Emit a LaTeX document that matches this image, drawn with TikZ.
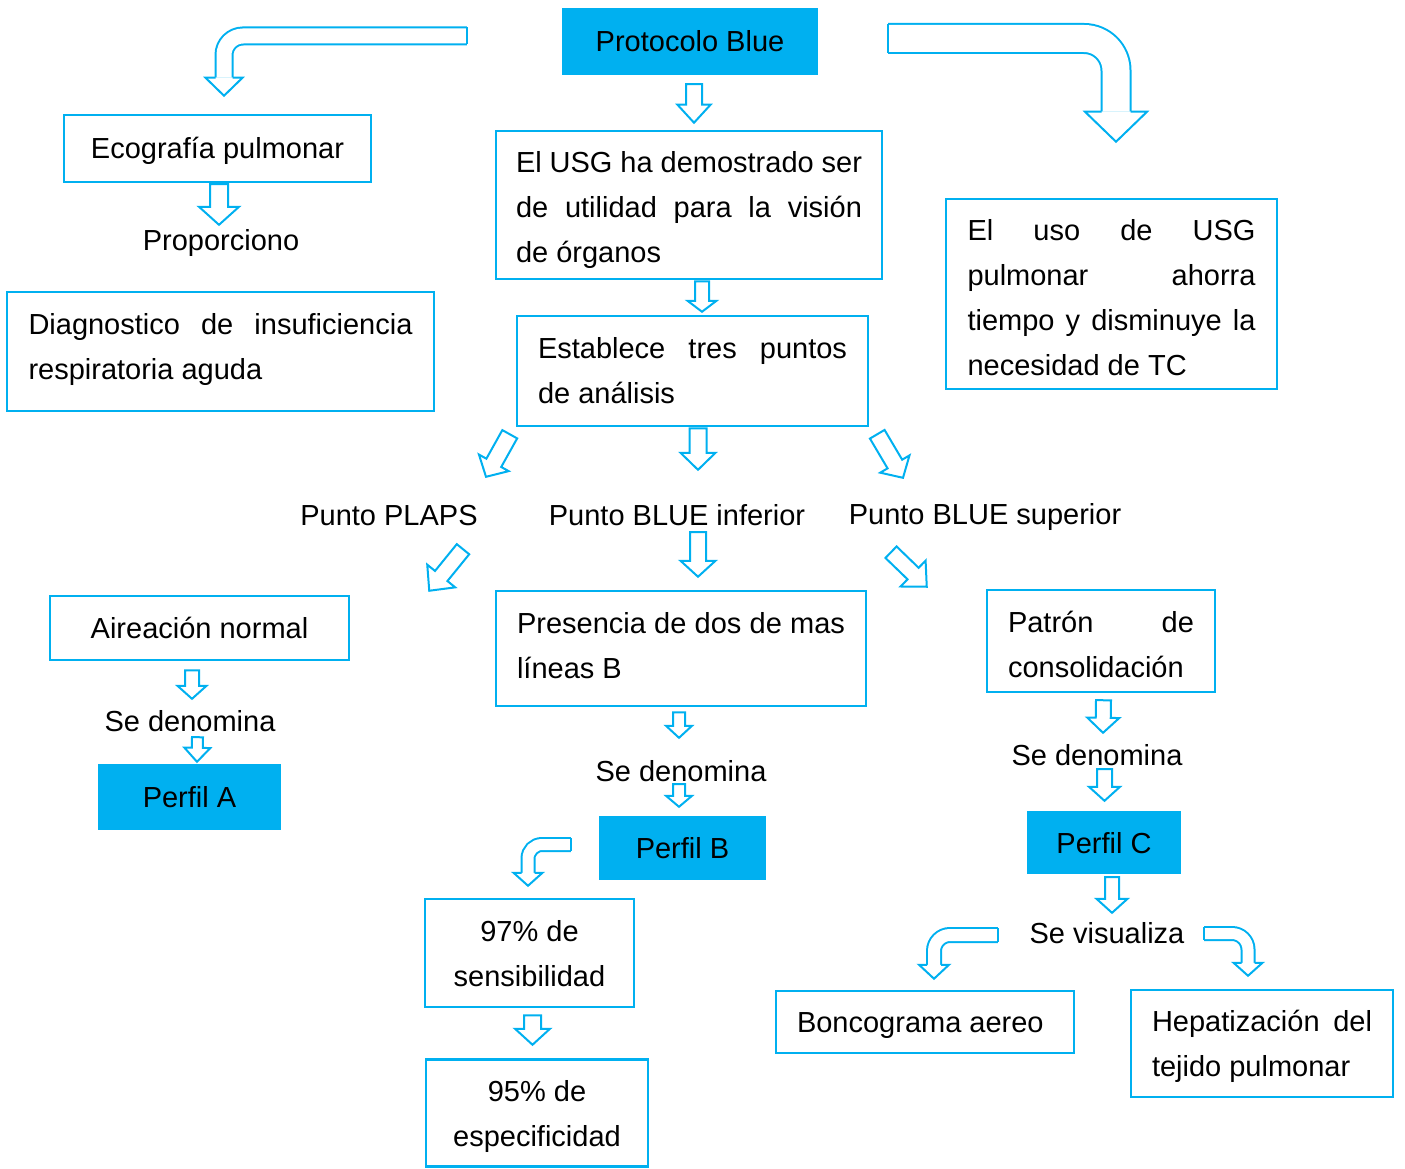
\documentclass[tikz,border=0pt]{standalone}
\usepackage{fontspec}
\setmainfont{Liberation Sans}
\usetikzlibrary{calc}
\definecolor{celeste}{HTML}{00B0F0}

\begin{document}
\begin{tikzpicture}[x=1pt,y=-1pt]
\tikzstyle{caja}=[draw=celeste,line width=2.5pt,inner sep=0pt,font=\fontsize{29}{45}\selectfont]
\tikzstyle{llena}=[fill=celeste,inner sep=0pt,font=\fontsize{29}{45}\selectfont]
\tikzstyle{texto}=[inner sep=0pt,font=\fontsize{29}{45}\selectfont]
\tikzstyle{linea}=[text height=28pt,text depth=7pt]
\tikzstyle{bloque}=[draw=celeste,line width=2pt,fill=white]
\def\arriba#1{\rule{0pt}{#1pt}}
\def\abajo#1{\rule[-#1pt]{0pt}{#1pt}}
\def\flecha#1#2#3#4#5{%
  \coordinate (fa) at (#1);
  \coordinate (fb) at (#2);
  \coordinate (fh) at ($(fb)!#5pt!(fa)$);
  \path[bloque] ($(fa)!#3pt!90:(fb)$) -- ($(fh)!#3pt!90:(fb)$) -- ($(fh)!#4pt!90:(fb)$) -- (fb)
    -- ($(fh)!#4pt!-90:(fb)$) -- ($(fh)!#3pt!-90:(fb)$) -- ($(fa)!#3pt!-90:(fb)$) -- cycle;}
\def\codo#1#2#3#4#5#6{%
  \coordinate (fa) at (#1);
  \coordinate (fb) at (#2);
  \coordinate (fh) at ($(fb)+(0,-#5)$);
  \draw[draw=celeste,line width=2pt,double=white,double distance={2*#3pt-2pt},rounded corners=#6pt] (fa) -- (fb |- fa) -- (fh);
  \draw[draw=celeste,line width=2pt,line cap=square] ($(fa)+(0,-#3)$) -- ($(fa)+(0,#3)$);
  \filldraw[bloque] ($(fh)+(-#3,0)$) -- ($(fh)+(-#4,0)$) -- (fb) -- ($(fh)+(#4,0)$) -- ($(fh)+(#3,0)$);}
\useasboundingbox (0,0) rectangle (1405,1169);

% cajas y textos
\node[llena,linea,minimum width=256pt,minimum height=67pt] (blue) at (690,41.5) {Protocolo Blue};
\node[caja,linea,minimum width=307pt,minimum height=67pt] (eco) at (217.5,148.5) {Ecografía pulmonar};
\node[texto,linea] (prop) at (221,240) {Proporciono};
\node[caja,align=left,minimum width=427pt,minimum height=119pt] (diag) at (220.5,351.5) {\arriba{28}\makebox[384pt][s]{Diagnostico de insuficiencia}\\respiratoria aguda\abajo{18}};
\node[caja,align=left,minimum width=386pt,minimum height=148pt] (usg) at (689,205) {\arriba{33}\makebox[346pt][s]{El USG ha demostrado ser}\\\makebox[346pt][s]{de utilidad para la visión}\\de órganos\abajo{8}};
\node[caja,align=left,minimum width=351pt,minimum height=110pt] (est) at (692.5,371) {\arriba{28}\makebox[309pt][s]{Establece tres puntos}\\de análisis\abajo{9}};
\node[caja,align=left,minimum width=331pt,minimum height=190pt] (uso) at (1111.5,294) {\arriba{35}\makebox[288pt][s]{El uso de USG}\\\makebox[288pt][s]{pulmonar ahorra}\\\makebox[288pt][s]{tiempo y disminuye la}\\necesidad de TC\abajo{8}};
\node[texto,linea] (plaps) at (389,515) {Punto PLAPS};
\node[texto,linea] (inf) at (677,515) {Punto BLUE inferior};
\node[texto,linea] (sup) at (985,514) {Punto BLUE superior};
\node[caja,linea,minimum width=299pt,minimum height=64pt] (aire) at (199.5,628) {Aireación normal};
\node[texto,linea] (denA) at (190,721) {Se denomina};
\node[llena,linea,minimum width=183pt,minimum height=66pt] (perfA) at (189.5,797) {Perfil A};
\node[caja,align=left,minimum width=370pt,minimum height=115pt] (pres) at (681,648.5) {\arriba{28}\makebox[328pt][s]{Presencia de dos de mas}\\líneas B\abajo{13}};
\node[texto,linea] (denB) at (681,771) {Se denomina};
\node[llena,linea,minimum width=167pt,minimum height=64pt] (perfB) at (682.5,848) {Perfil B};
\node[caja,align=center,minimum width=209pt,minimum height=108pt] (p97) at (529.5,953) {\arriba{29}97\% de\\sensibilidad\abajo{8}};
\node[caja,align=center,minimum width=222pt,minimum height=107pt] (p95) at (537,1113) {\arriba{30}95\% de\\especificidad\abajo{8}};
\node[caja,align=left,minimum width=228pt,minimum height=102pt] (patron) at (1101,641) {\arriba{35}\makebox[186pt][s]{Patrón de}\\consolidación\abajo{8}};
\node[texto,linea] (denC) at (1097,755) {Se denomina};
\node[llena,linea,minimum width=154pt,minimum height=63pt] (perfC) at (1104,842.5) {Perfil C};
\node[texto,linea] (visu) at (1107,933) {Se visualiza};
\node[caja,linea,minimum width=298pt,minimum height=62pt] (bronco) at (925,1022) {\makebox[256pt][l]{Boncograma aereo}};
\node[caja,align=left,minimum width=262pt,minimum height=107pt] (hepa) at (1262,1043.5) {\arriba{29}\makebox[220pt][s]{Hepatización del}\\tejido pulmonar\abajo{8}};

% flechas rectas
\flecha{$(blue.south)+(4,9)$}{$(usg.north)+(5,-7)$}{8}{16.5}{18}
\flecha{$(eco.south)+(1.5,1)$}{$(prop.north)+(-2,2.5)$}{9}{20}{18}
\flecha{$(usg.south)+(13,1)$}{$(est.north)+(9.5,-3)$}{7}{14.5}{11}
\flecha{$(est.south)+(5.5,1)$}{$(inf.north)+(21,-27.5)$}{8.5}{17.5}{17}
\flecha{$(est.south west)+(-6,7)$}{$(plaps.north)+(97,-20.5)$}{8.5}{17}{16}
\flecha{$(est.south east)+(8,7)$}{$(sup.north)+(-82,-18.5)$}{8.5}{17}{16}
\flecha{$(inf.south)+(21,-0.5)$}{$(pres.north)+(17,-13)$}{8}{17.5}{16}
\flecha{$(plaps.south)+(74,16.5)$}{$(aire.north east)+(79,-4)$}{8}{18}{19}
\flecha{$(sup.south)+(-94,20.5)$}{$(patron.north west)+(-59,-2)$}{8}{18}{19}
\flecha{$(aire.south)+(-7.5,9)$}{$(denA.north)+(2,-4.5)$}{7}{14.5}{13}
\flecha{$(denA.south)+(7.5,-1.5)$}{$(perfA.north)+(7.5,-2)$}{5.5}{13}{14}
\flecha{$(pres.south)+(-2,5)$}{$(denB.north)+(-2,-15.5)$}{6}{13}{12}
\flecha{$(denB.south)+(-2,-4.5)$}{$(perfB.north)+(-3.5,-9)$}{6}{13}{11}
\flecha{$(p97.south)+(3,7)$}{$(p95.north)+(-4.5,-13.5)$}{8.5}{17.5}{16}
\flecha{$(patron.south)+(2.5,7)$}{$(denC.north)+(6,-4.5)$}{7.5}{16}{15}
\flecha{$(denC.south)+(7.5,-3.5)$}{$(perfC.north)+(0.5,-10)$}{7.5}{15.5}{14}
\flecha{$(perfC.south)+(8,3)$}{$(visu.north)+(5,-2.5)$}{7}{15.5}{14}
% flechas curvas
\codo{$(blue.west)+(-95,-5.5)$}{$(eco.north)+(6.5,-18)$}{8.5}{18.5}{18}{19}
\codo{$(blue.east)+(70,-3)$}{$(uso.north)+(4.5,-56)$}{14.5}{31}{30}{32}
\codo{$(perfB.west)+(-28,-3.5)$}{$(p97.north)+(-1.5,-12)$}{6.5}{14.5}{13}{14}
\codo{$(visu.west)+(-31.5,2)$}{$(bronco.north)+(9,-11)$}{7}{15}{14}{16}
\codo{$(visu.east)+(19.5,0.5)$}{$(hepa.north)+(-14,-13)$}{6.5}{14.5}{13}{16}
\end{tikzpicture}
\end{document}
